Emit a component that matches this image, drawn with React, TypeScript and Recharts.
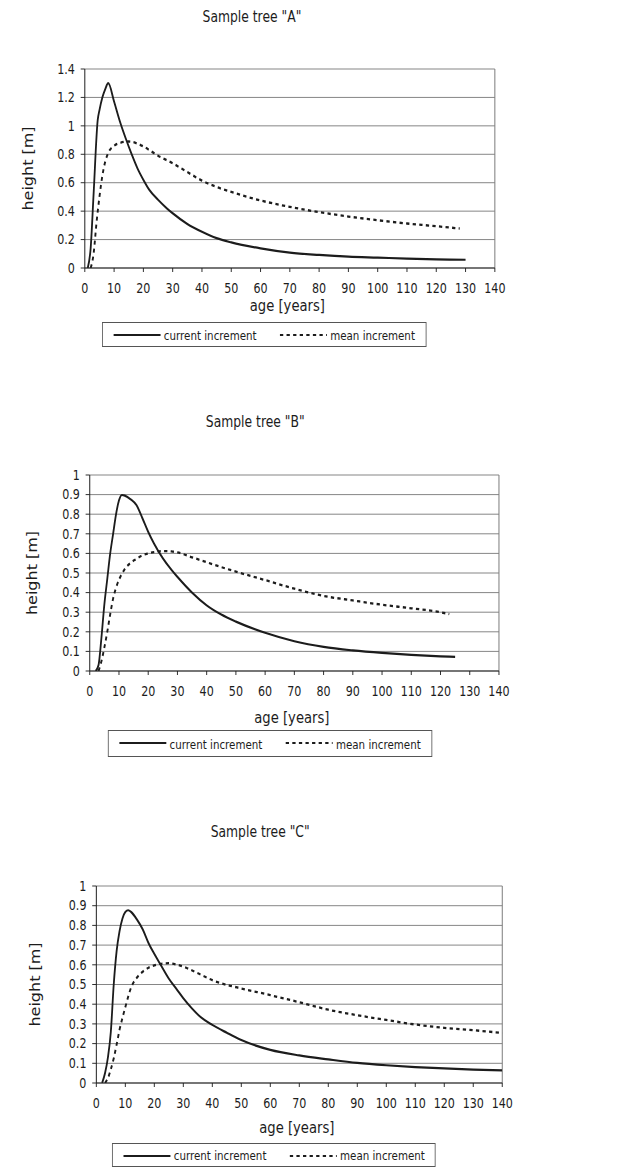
import React from 'react';
import { LineChart, Line, XAxis, YAxis, CartesianGrid, ReferenceLine, Legend } from 'recharts';

const FONT = '"DejaVu Sans", Verdana, sans-serif';
const INK = '#1c1c1c';
const INNER_W = 770; // drawing width before the horizontal squeeze of the scanned page
const SQUEEZE = 634 / INNER_W;

// ---------- tick labels ----------
const xTicks = [0, 10, 20, 30, 40, 50, 60, 70, 80, 90, 100, 110, 120, 130, 140];
const yTicksA = [0, 0.2, 0.4, 0.6, 0.8, 1, 1.2, 1.4];
const yTicksBC = [0, 0.1, 0.2, 0.3, 0.4, 0.5, 0.6, 0.7, 0.8, 0.9, 1];

// ---------- Sample tree "A" ----------
const ageCurrentA = [1, 2, 3, 4.4, 5, 6, 7, 8, 10, 12, 14, 16, 18, 20, 22, 25, 28, 30, 35, 40, 45, 50, 60, 70, 80, 90, 100, 110, 120, 130];
const currentA = [0, 0.14, 0.52, 1.04, 1.11, 1.2, 1.26, 1.3, 1.17, 1.03, 0.91, 0.8, 0.7, 0.62, 0.55, 0.48, 0.42, 0.385, 0.31, 0.255, 0.21, 0.18, 0.138, 0.108, 0.092, 0.08, 0.073, 0.066, 0.061, 0.058];
const ageMeanA = [2, 3, 4, 5, 6, 7, 8, 10, 12, 15, 18, 20, 25, 30, 35, 40, 45, 50, 60, 70, 80, 90, 100, 110, 120, 128];
const meanA = [0, 0.1, 0.32, 0.5, 0.65, 0.75, 0.81, 0.86, 0.88, 0.89, 0.875, 0.855, 0.79, 0.737, 0.675, 0.615, 0.57, 0.535, 0.475, 0.43, 0.393, 0.362, 0.336, 0.313, 0.294, 0.278];

// ---------- Sample tree "B" ----------
const ageCurrentB = [2, 3, 4, 5, 6, 7, 8, 9, 10, 11, 12, 14, 16, 18, 20, 22, 25, 28, 30, 35, 40, 45, 50, 60, 70, 80, 90, 100, 110, 120, 125];
const currentB = [0, 0.03, 0.17, 0.34, 0.47, 0.6, 0.7, 0.8, 0.87, 0.898, 0.895, 0.876, 0.846, 0.78, 0.71, 0.65, 0.575, 0.515, 0.48, 0.4, 0.335, 0.288, 0.252, 0.195, 0.152, 0.123, 0.105, 0.092, 0.082, 0.075, 0.072];
const ageMeanB = [3, 4, 5, 6, 7, 8, 9, 10, 12, 14, 16, 18, 20, 22, 25, 28, 30, 35, 40, 45, 50, 60, 70, 80, 90, 100, 110, 120, 123];
const meanB = [0, 0.05, 0.12, 0.2, 0.29, 0.37, 0.425, 0.465, 0.52, 0.552, 0.572, 0.59, 0.6, 0.607, 0.612, 0.61, 0.605, 0.58, 0.555, 0.53, 0.507, 0.464, 0.42, 0.383, 0.36, 0.338, 0.32, 0.3, 0.29];

// ---------- Sample tree "C" ----------
const ageCurrentC = [2, 3, 4, 5, 6, 7, 8, 9, 10, 11, 12, 14, 16, 18, 20, 22, 25, 28, 30, 33, 36, 40, 45, 50, 60, 70, 80, 90, 100, 110, 120, 130, 140];
const currentC = [0, 0.05, 0.13, 0.26, 0.5, 0.67, 0.77, 0.835, 0.868, 0.877, 0.868, 0.83, 0.78, 0.71, 0.655, 0.605, 0.53, 0.47, 0.43, 0.378, 0.334, 0.295, 0.255, 0.218, 0.168, 0.14, 0.12, 0.102, 0.09, 0.081, 0.074, 0.068, 0.064];
const ageMeanC = [3, 4, 5, 6, 7, 8, 9, 10, 12, 14, 16, 18, 20, 22, 25, 28, 31, 36, 40, 45, 50, 60, 70, 80, 90, 100, 110, 120, 130, 140];
const meanC = [0, 0.025, 0.07, 0.125, 0.195, 0.27, 0.33, 0.385, 0.485, 0.535, 0.565, 0.585, 0.597, 0.605, 0.608, 0.6, 0.585, 0.55, 0.522, 0.498, 0.48, 0.446, 0.41, 0.372, 0.344, 0.32, 0.297, 0.28, 0.268, 0.254];

type Pt = { age: number; v: number };
const zip = (ages: number[], vals: number[]): Pt[] => ages.map((age, i) => ({ age, v: vals[i] }));

const LegendBox = () => (
  <div
    style={{
      position: 'relative',
      boxSizing: 'border-box',
      width: '100%',
      height: '100%',
      border: '1px solid #555',
      background: '#fff',
      fontFamily: FONT,
      fontSize: 12.5,
      color: INK,
      whiteSpace: 'nowrap',
    }}
  >
    <svg width={394} height={26} style={{ position: 'absolute', left: 0, top: 0, overflow: 'visible' }}>
      <line x1={13} x2={70} y1={12} y2={12} stroke={INK} strokeWidth={2} />
      <line x1={215} x2={272} y1={12} y2={12} stroke={INK} strokeWidth={2.2} strokeDasharray="4 4" />
    </svg>
    <span style={{ position: 'absolute', left: 74, top: '50%', transform: 'translateY(-50%)' }}>current increment</span>
    <span style={{ position: 'absolute', left: 276, top: '50%', transform: 'translateY(-50%)' }}>mean increment</span>
  </div>
);

interface ChartProps {
  title: string;
  top: number;
  height: number;
  L: number;
  R: number;
  T: number;
  B: number;
  titleX: number;
  titleY: number;
  yLabelX: number;
  xTitleDy: number;
  legend: { left: number; top: number; width: number; height: number };
  yMax: number;
  yTicks: number[];
  current: Pt[];
  mean: Pt[];
}

const TreeChart = (p: ChartProps) => {
  const margin = {
    top: p.T - p.top,
    left: p.L - 60,
    right: INNER_W - p.R,
    bottom: p.top + p.height - p.B - 30,
  };
  return (
    <div style={{ position: 'absolute', left: 0, top: p.top, width: INNER_W, height: p.height }}>
      <LineChart width={INNER_W} height={p.height} margin={margin}>
        <CartesianGrid horizontal vertical={false} stroke="#7a7a7a" strokeWidth={1} />
        <ReferenceLine x={140} stroke="#7a7a7a" strokeWidth={1.2} ifOverflow="extendDomain" />
        <XAxis
          type="number"
          dataKey="age"
          domain={[0, 140]}
          ticks={xTicks}
          allowDataOverflow
          height={30}
          interval={0}
          tickSize={4}
          tickMargin={11}
          axisLine={{ stroke: INK }}
          tickLine={{ stroke: INK }}
          tick={{ fontSize: 13.5, fill: INK, fontFamily: FONT }}
          label={{
            content: (lp: any) => {
              const vb = lp.viewBox || {};
              const cx = vb.x + vb.width / 2 - 3;
              const cy = vb.y + p.xTitleDy;
              return (
                <text x={cx} y={cy} textAnchor="middle" dominantBaseline="central" fontFamily={FONT} fontSize={16} fill={INK}>
                  age [years]
                </text>
              );
            },
          }}
        />
        <YAxis
          type="number"
          domain={[0, p.yMax]}
          ticks={p.yTicks}
          allowDataOverflow
          width={60}
          interval={0}
          tickSize={5}
          tickMargin={7}
          axisLine={{ stroke: INK, strokeWidth: 1.2 }}
          tickLine={{ stroke: INK }}
          tick={{ fontSize: 13.5, fill: INK, fontFamily: FONT }}
          label={{
            content: (lp: any) => {
              const vb = lp.viewBox || {};
              const cx = p.yLabelX;
              const cy = vb.y + vb.height / 2;
              return (
                <text
                  x={cx}
                  y={cy}
                  transform={`rotate(-90 ${cx} ${cy})`}
                  textAnchor="middle"
                  dominantBaseline="central"
                  fontFamily={FONT}
                  fontSize={16}
                  fill={INK}
                >
                  height [m]
                </text>
              );
            },
          }}
        />
        <Line
          data={p.current}
          dataKey="v"
          name="current increment"
          type="monotone"
          stroke={INK}
          strokeWidth={2.2}
          dot={false}
          activeDot={false}
          isAnimationActive={false}
        />
        <Line
          data={p.mean}
          dataKey="v"
          name="mean increment"
          type="monotone"
          stroke={INK}
          strokeWidth={2.3}
          strokeDasharray="4 4"
          dot={false}
          activeDot={false}
          isAnimationActive={false}
        />
        <Legend
          layout="horizontal"
          verticalAlign="middle"
          align="center"
          wrapperStyle={{
            left: p.legend.left,
            top: p.legend.top - p.top,
            width: p.legend.width,
            height: p.legend.height,
          }}
          content={() => <LegendBox />}
        />
      </LineChart>
      <div
        style={{
          position: 'absolute',
          left: p.titleX - 150,
          width: 300,
          top: p.titleY - p.top - 10,
          height: 20,
          lineHeight: '20px',
          textAlign: 'center',
          fontFamily: FONT,
          fontSize: 15,
          color: INK,
          pointerEvents: 'none',
        }}
      >
        {p.title}
      </div>
    </div>
  );
};

export default function App() {
  return (
    <div style={{ position: 'absolute', left: 0, top: 0, width: 634, height: 1168, background: '#fff', overflow: 'hidden' }}>
      <div
        style={{
          position: 'absolute',
          left: 0,
          top: 0,
          width: INNER_W,
          height: 1168,
          transform: `scaleX(${SQUEEZE})`,
          transformOrigin: '0 0',
        }}
      >
        <TreeChart
          title={'Sample tree "A"'}
          top={0}
          height={390}
          L={103}
          R={601}
          T={69}
          B={268}
          titleX={306}
          titleY={16.5}
          yLabelX={34}
          xTitleDy={37}
          legend={{ left: 124, top: 322, width: 394, height: 25 }}
          yMax={1.4}
          yTicks={yTicksA}
          current={zip(ageCurrentA, currentA)}
          mean={zip(ageMeanA, meanA)}
        />
        <TreeChart
          title={'Sample tree "B"'}
          top={400}
          height={390}
          L={109}
          R={606}
          T={475}
          B={671}
          titleX={310}
          titleY={422}
          yLabelX={39}
          xTitleDy={46}
          legend={{ left: 131, top: 730, width: 394, height: 27 }}
          yMax={1}
          yTicks={yTicksBC}
          current={zip(ageCurrentB, currentB)}
          mean={zip(ageMeanB, meanB)}
        />
        <TreeChart
          title={'Sample tree "C"'}
          top={810}
          height={358}
          L={117}
          R={610}
          T={886}
          B={1083}
          titleX={316}
          titleY={832}
          yLabelX={43}
          xTitleDy={44}
          legend={{ left: 136, top: 1143, width: 393, height: 24 }}
          yMax={1}
          yTicks={yTicksBC}
          current={zip(ageCurrentC, currentC)}
          mean={zip(ageMeanC, meanC)}
        />
      </div>
    </div>
  );
}
